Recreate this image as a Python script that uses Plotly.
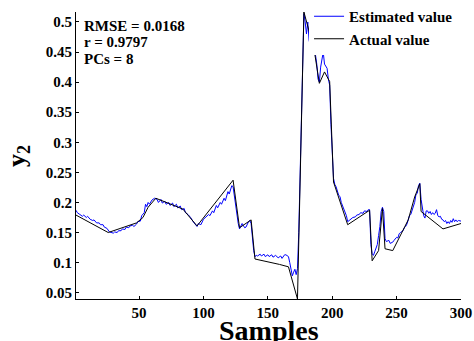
import plotly.graph_objects as go

# ---------------- data ----------------
act_x = [1, 26, 48, 53, 57, 63, 84, 95, 123, 128, 137, 140, 159, 166, 173, 178, 186, 190, 194, 198,
         201, 212, 229, 231, 236, 239, 241, 247, 259, 264, 268, 269, 286, 300]
act_y = [0.179, 0.150, 0.166, 0.175, 0.192, 0.207, 0.189, 0.161, 0.237, 0.158, 0.171, 0.106, 0.097, 0.093,
         0.0395, 0.5166, 0.453, 0.398, 0.417, 0.401, 0.234, 0.163, 0.187, 0.103, 0.120, 0.190, 0.123,
         0.120, 0.171, 0.209, 0.231, 0.185, 0.156, 0.165]

est_x = [1, 2, 4, 6, 7, 9, 10, 12, 14, 15, 17, 19, 20, 22, 23, 25, 27, 28, 30, 31, 33, 34, 36, 37, 39,
         40, 42, 43, 45, 46, 48, 49, 51, 52, 54, 55, 56, 57, 58, 60, 62, 64, 65, 67, 68, 70, 71, 73, 74,
         76, 77, 79, 80, 82, 83, 85, 86, 88, 90, 92, 94, 95, 96, 98, 100, 102, 104, 105, 107, 108, 110,
         111, 113, 114, 116, 117, 119, 120, 121, 122, 123, 124, 125, 127, 128, 129, 130, 132, 133, 135,
         136, 137, 138, 139, 140, 141, 142, 144, 145, 147, 148, 150, 151, 153, 154, 156, 158, 160, 161,
         163, 164, 166, 167, 168, 169, 170, 171, 172, 173, 174, 175, 176, 177, 178, 179, 180, 181, 182,
         183, 185, 187, 188, 189, 190, 191, 192, 193, 194, 195, 196, 197, 198, 199, 200, 201, 202, 203,
         205, 206, 207, 208, 210, 211, 212, 213, 215, 216, 218, 219, 221, 222, 224, 225, 227, 228, 229,
         230, 231, 232, 233, 234, 235, 236, 237, 238, 239, 240, 241, 242, 244, 245, 247, 248, 250, 251,
         252, 253, 255, 256, 257, 258, 259, 260, 261, 262, 263, 264, 265, 266, 267, 268, 269, 270, 271,
         272, 273, 274, 275, 276, 277, 278, 279, 280, 281, 282, 283, 284, 285, 286, 287, 288, 289, 290,
         291, 292, 293, 294, 295, 296, 297, 298, 299, 300]
est_y = [0.187, 0.183, 0.180, 0.177, 0.179, 0.175, 0.177, 0.172, 0.170, 0.171, 0.166, 0.166, 0.163,
         0.163, 0.159, 0.157, 0.151, 0.150, 0.149, 0.151, 0.150, 0.153, 0.153, 0.156, 0.155, 0.159,
         0.158, 0.161, 0.162, 0.160, 0.164, 0.168, 0.169, 0.178, 0.183, 0.197, 0.193, 0.200, 0.197,
         0.204, 0.207, 0.205, 0.200, 0.205, 0.199, 0.202, 0.197, 0.200, 0.195, 0.199, 0.193, 0.197,
         0.191, 0.194, 0.188, 0.190, 0.183, 0.180, 0.175, 0.168, 0.163, 0.160, 0.165, 0.163, 0.172,
         0.176, 0.180, 0.178, 0.186, 0.183, 0.195, 0.191, 0.200, 0.197, 0.207, 0.203, 0.218, 0.214,
         0.222, 0.228, 0.226, 0.210, 0.190, 0.165, 0.156, 0.162, 0.165, 0.158, 0.159, 0.168, 0.170,
         0.165, 0.140, 0.120, 0.110, 0.112, 0.111, 0.114, 0.111, 0.114, 0.110, 0.113, 0.110, 0.113,
         0.109, 0.112, 0.108, 0.111, 0.107, 0.113, 0.113, 0.110, 0.100, 0.086, 0.078, 0.084, 0.089,
         0.080, 0.090, 0.150, 0.250, 0.360, 0.470, 0.514, 0.500, 0.480, 0.500, 0.470, 0.460, 0.455,
         0.445, 0.430, 0.405, 0.400, 0.425, 0.440, 0.450, 0.430, 0.425, 0.423, 0.405, 0.395, 0.330,
         0.280, 0.240, 0.230, 0.226, 0.212, 0.210, 0.200, 0.195, 0.183, 0.178, 0.168, 0.170, 0.173,
         0.175, 0.176, 0.179, 0.180, 0.183, 0.182, 0.186, 0.185, 0.188, 0.188, 0.130, 0.115, 0.112,
         0.118, 0.126, 0.130, 0.145, 0.160, 0.185, 0.192, 0.185, 0.140, 0.135, 0.137, 0.132, 0.134,
         0.137, 0.142, 0.141, 0.148, 0.150, 0.153, 0.158, 0.160, 0.164, 0.172, 0.178, 0.180, 0.188,
         0.192, 0.200, 0.213, 0.215, 0.228, 0.232, 0.205, 0.190, 0.178, 0.174, 0.186, 0.186, 0.182,
         0.185, 0.180, 0.183, 0.180, 0.182, 0.188, 0.178, 0.176, 0.177, 0.172, 0.171, 0.168, 0.170,
         0.165, 0.168, 0.165, 0.170, 0.167, 0.173, 0.168, 0.171, 0.168, 0.170, 0.170, 0.169]

x_ticks = [50, 100, 150, 200, 250, 300]
y_ticks = [0.05, 0.1, 0.15, 0.2, 0.25, 0.3, 0.35, 0.4, 0.45, 0.5]
y_tick_text = ["0.05", "0.1", "0.15", "0.2", "0.25", "0.3", "0.35", "0.4", "0.45", "0.5"]
stats = ["RMSE = 0.0168", "r = 0.9797", "PCs = 8"]

FONT = "Liberation Serif"

fig = go.Figure()
fig.add_trace(go.Scatter(x=est_x, y=est_y, mode="lines", name="Estimated value",
                         line=dict(color="#0000ff", width=1)))
fig.add_trace(go.Scatter(x=act_x, y=act_y, mode="lines", name="Actual value",
                         line=dict(color="#000000", width=1)))

axis_common = dict(showline=True, linecolor="black", linewidth=1, ticks="inside", ticklen=3,
                   tickcolor="black", showgrid=False, zeroline=False, mirror=False,
                   automargin=False,
                   tickfont=dict(family=FONT, size=15, color="black", weight="bold"))

fig.update_xaxes(range=[1, 300], tickvals=x_ticks, **axis_common)
fig.update_yaxes(range=[0.0395, 0.5166], tickvals=y_ticks, ticktext=y_tick_text, **axis_common)

for i, s in enumerate(stats):
    fig.add_annotation(xref="paper", yref="paper", x=0.0156, y=[0.951, 0.895, 0.835][i],
                       xanchor="left", yanchor="middle", text=s, showarrow=False,
                       font=dict(family=FONT, size=15, color="black", weight="bold"))

fig.add_annotation(xref="paper", yref="paper", x=0.5, y=-0.05, xanchor="center", yanchor="top",
                   text="Samples", showarrow=False,
                   font=dict(family=FONT, size=28, color="black", weight="bold"))
fig.add_annotation(xref="paper", yref="paper", x=-0.152, y=0.5, xanchor="center", yanchor="middle",
                   text="y<sub>2</sub>", textangle=-90, showarrow=False,
                   font=dict(family=FONT, size=26, color="black", weight="bold"))

fig.update_layout(
    width=474, height=341,
    margin=dict(l=76, r=13, t=12, b=42, autoexpand=False),
    paper_bgcolor="white", plot_bgcolor="white",
    showlegend=True,
    legend=dict(xref="container", yref="container", x=0.652, y=1.0,
                xanchor="left", yanchor="top", bgcolor="white",
                borderwidth=0, font=dict(family=FONT, size=15, color="black", weight="bold"),
                tracegroupgap=0),
)

fig.write_html("out.html")
